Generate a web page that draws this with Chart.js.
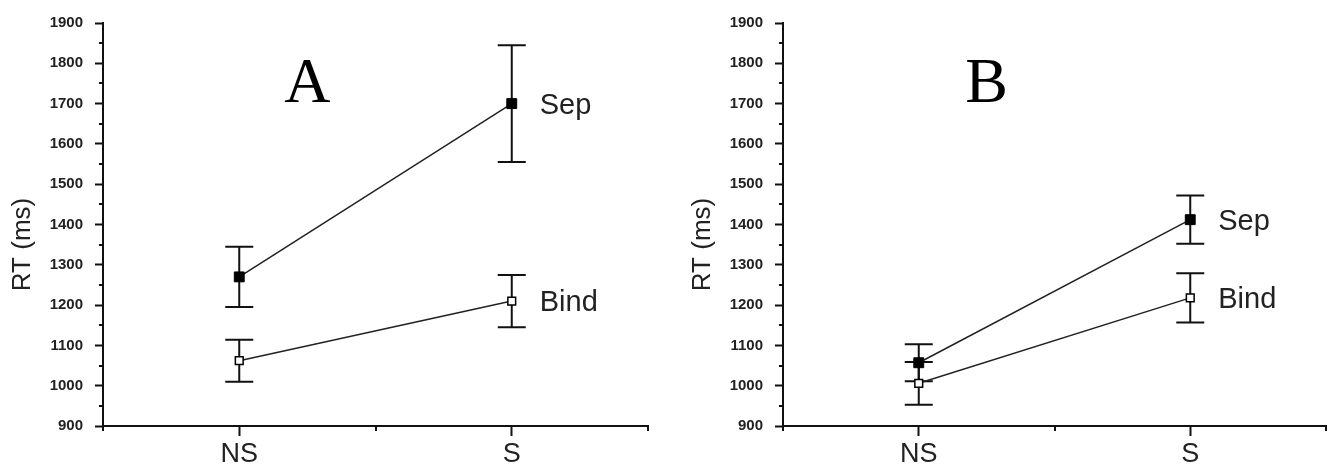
<!DOCTYPE html>
<html>
<head>
<meta charset="utf-8">
<script src="https://cdn.jsdelivr.net/npm/chart.js@4.4.1/dist/chart.umd.min.js"></script>
<style>
  body { margin: 0; background: #fff; }
  .panel { position: absolute; top: 0; height: 466px; }
  #wrapA { left: 0; width: 660px; }
  #wrapB { left: 680px; width: 654px; }
</style>
</head>
<body>
<div class="panel" id="wrapA"><canvas id="chartA"></canvas></div>
<div class="panel" id="wrapB"><canvas id="chartB"></canvas></div>
<script>
// categories on a 0..4 x scale (NS at 1, S at 3)
var categories = ['NS', 'S'];
var xPositions = [1, 3];

// panel A
var sepA = [1270, 1700];
var sepAErr = [75, 145];
var bindA = [1062, 1210];
var bindAErr = [52, 65];

// panel B
var sepB = [1057, 1412];
var sepBErr = [46, 60];
var bindB = [1006, 1218];
var bindBErr = [53, 61];

var yMin = 900, yMax = 1900, yStep = 100;

function toPoints(values) {
    return values.map((v, i) => ({ x: xPositions[i], y: v }));
}

// error bars, minor ticks, series tags, panel letter, y title
var extras = {
    id: 'extras',
    beforeDatasetsDraw(chart) {
        var ctx = chart.ctx;
        var xs = chart.scales.x, ys = chart.scales.y;
        ctx.save();
        ctx.strokeStyle = '#111';
        ctx.lineWidth = 2;
        chart.data.datasets.forEach(ds => {
            ds.data.forEach((p, i) => {
                var x = xs.getPixelForValue(p.x);
                var top = ys.getPixelForValue(p.y + ds.errors[i]);
                var bot = ys.getPixelForValue(p.y - ds.errors[i]);
                ctx.beginPath();
                ctx.moveTo(x, top); ctx.lineTo(x, bot);
                ctx.moveTo(x - 14, top); ctx.lineTo(x + 14, top);
                ctx.moveTo(x - 14, bot); ctx.lineTo(x + 14, bot);
                ctx.stroke();
            });
        });
        ctx.restore();
    },
    afterDraw(chart, args, opts) {
        var ctx = chart.ctx;
        var xs = chart.scales.x, ys = chart.scales.y;
        var area = chart.chartArea;
        ctx.save();
        ctx.strokeStyle = '#111';
        ctx.lineWidth = 2;
        ctx.beginPath();
        for (var v = yMin + yStep / 2; v < yMax; v += yStep) {
            var y = Math.round(ys.getPixelForValue(v));
            ctx.moveTo(area.left - 4, y); ctx.lineTo(area.left, y);
        }
        [0, 2, 4].forEach(v => {
            var x = Math.round(xs.getPixelForValue(v));
            ctx.moveTo(x, area.bottom); ctx.lineTo(x, area.bottom + 5);
        });
        ctx.stroke();

        // series tags at the S end
        ctx.fillStyle = '#222';
        ctx.font = '29px "Liberation Sans", Arial, sans-serif';
        ctx.textBaseline = 'middle';
        ctx.textAlign = 'left';
        chart.data.datasets.forEach(ds => {
            var last = ds.data[ds.data.length - 1];
            ctx.fillText(ds.label, xs.getPixelForValue(last.x) + 28, ys.getPixelForValue(last.y) + 2);
        });

        // panel letter
        ctx.fillStyle = '#000';
        ctx.font = '64px "Liberation Serif", "Times New Roman", serif';
        ctx.textAlign = 'center';
        ctx.fillText(opts.letter, xs.getPixelForValue(1.5), ys.getPixelForValue(1745));

        // y axis title
        ctx.fillStyle = '#222';
        ctx.font = '26px "Liberation Sans", Arial, sans-serif';
        ctx.translate(23, (area.top + area.bottom) / 2 + 20);
        ctx.rotate(-Math.PI / 2);
        ctx.fillText('RT (ms)', 0, 0);
        ctx.restore();
    }
};

function makeChart(id, letter, sep, sepErr, bind, bindErr, padRight) {
    var ctx = document.getElementById(id).getContext('2d');
    return new Chart(ctx, {
        type: 'line',
        data: {
            datasets: [{
                label: 'Sep',
                data: toPoints(sep),
                errors: sepErr,
                borderColor: '#222',
                borderWidth: 1.5,
                pointStyle: 'rect',
                pointRadius: 7,
                pointBackgroundColor: '#000',
                pointBorderColor: '#000',
                pointBorderWidth: 1
            }, {
                label: 'Bind',
                data: toPoints(bind),
                errors: bindErr,
                borderColor: '#222',
                borderWidth: 1.5,
                pointStyle: 'rect',
                pointRadius: 5.5,
                pointBackgroundColor: '#fff',
                pointBorderColor: '#000',
                pointBorderWidth: 1.5
            }]
        },
        options: {
            responsive: true,
            maintainAspectRatio: false,
            animation: false,
            layout: { padding: { top: 23, right: padRight, left: 0, bottom: 0 } },
            plugins: {
                legend: { display: false },
                tooltip: { enabled: false },
                extras: { letter: letter }
            },
            scales: {
                x: {
                    type: 'linear',
                    min: 0,
                    max: 4,
                    afterBuildTicks: scale => {
                        scale.ticks = xPositions.map(v => ({ value: v }));
                    },
                    afterFit: scale => { scale.height = 40; },
                    ticks: {
                        color: '#222',
                        padding: 2,
                        maxRotation: 0,
                        font: { family: '"Liberation Sans", Arial, sans-serif', size: 27 },
                        callback: value => categories[xPositions.indexOf(value)] || ''
                    },
                    grid: { drawOnChartArea: false, tickLength: 10, tickColor: '#111', tickWidth: 2 },
                    border: { color: '#111', width: 2 }
                },
                y: {
                    min: yMin,
                    max: yMax,
                    afterFit: scale => { scale.width = 103; },
                    ticks: {
                        stepSize: yStep,
                        color: '#222',
                        padding: 12,
                        font: { family: '"Liberation Sans", Arial, sans-serif', size: 15, weight: 'bold' },
                        callback: value => String(value)
                    },
                    grid: { drawOnChartArea: false, tickLength: 8, tickColor: '#111', tickWidth: 2 },
                    border: { color: '#111', width: 2 }
                }
            }
        },
        plugins: [extras]
    });
}

makeChart('chartA', 'A', sepA, sepAErr, bindA, bindAErr, 12);
makeChart('chartB', 'B', sepB, sepBErr, bindB, bindBErr, 6);
</script>
</body>
</html>
